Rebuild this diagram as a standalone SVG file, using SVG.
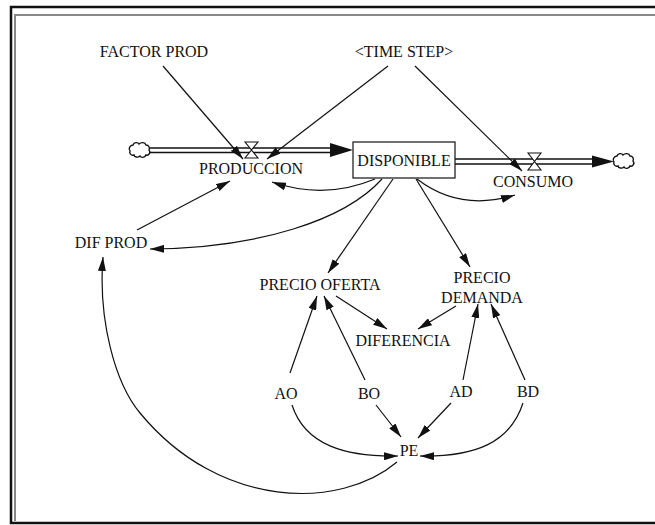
<svg xmlns="http://www.w3.org/2000/svg" width="655" height="525" viewBox="0 0 655 525">
<style>
text{font-family:"Liberation Serif","Times New Roman",serif;font-size:16px;fill:#111;text-anchor:middle}
.ln{fill:none;stroke:#111;stroke-width:1.2}
.pipe{fill:none;stroke:#111;stroke-width:1.3}
.cloud{fill:#fff;stroke:#111;stroke-width:1.4}
.valve{fill:#fff;stroke:#111;stroke-width:1.1}
</style>
<defs>
<marker id="ah" viewBox="0 0 14 8" refX="14" refY="4" markerWidth="14" markerHeight="8" markerUnits="userSpaceOnUse" orient="auto">
<path d="M0,0 L14,4 L0,8 z" fill="#111"/>
</marker>
</defs>
<rect width="655" height="525" fill="#fff"/>
<g id="frame">
<path d="M655,7 H11 V523 H655" fill="none" stroke="#111" stroke-width="2.5"/>
<path d="M655,15 H15 V521" fill="none" stroke="#888" stroke-width="2"/>
</g>
<g id="connectors">
<!-- inflow pipe -->
<path class="pipe" d="M150,148 H334 M150,152.5 H334"/>
<path d="M330,143 L353,150 L330,157 z" fill="#111"/>
<!-- outflow pipe -->
<path class="pipe" d="M455,159 H596 M455,164 H596"/>
<path d="M592,155.5 L614,161.5 L592,167.5 z" fill="#111"/>
<!-- info links -->
<path class="ln" marker-end="url(#ah)" d="M163,66 L243,159"/>
<path class="ln" marker-end="url(#ah)" d="M388,66 L267,159"/>
<path class="ln" marker-end="url(#ah)" d="M415,66 L522,171"/>
<path class="ln" marker-end="url(#ah)" d="M375,179 Q325,200 272,182"/>
<path class="ln" marker-end="url(#ah)" d="M417,179 Q460,212 515,195"/>
<path class="ln" marker-end="url(#ah)" d="M382,179 C345,220 260,248 150,249"/>
<path class="ln" marker-end="url(#ah)" d="M393,179 L328,273"/>
<path class="ln" marker-end="url(#ah)" d="M416,179 L470,267"/>
<path class="ln" marker-end="url(#ah)" d="M137,230 L230,181"/>
<path class="ln" marker-end="url(#ah)" d="M336,296 L387,329"/>
<path class="ln" marker-end="url(#ah)" d="M456,306 L418,329"/>
<path class="ln" marker-end="url(#ah)" d="M290,373 L317,296"/>
<path class="ln" marker-end="url(#ah)" d="M365,380 L324,296"/>
<path class="ln" marker-end="url(#ah)" d="M463,380 L478,304"/>
<path class="ln" marker-end="url(#ah)" d="M525,380 L491,304"/>
<path class="ln" marker-end="url(#ah)" d="M292,405 C305,445 345,457 398,456"/>
<path class="ln" marker-end="url(#ah)" d="M376,405 L401,437"/>
<path class="ln" marker-end="url(#ah)" d="M451,403 L418,438"/>
<path class="ln" marker-end="url(#ah)" d="M523,403 C510,443 475,457 420,456"/>
<path class="ln" marker-end="url(#ah)" d="M397,462 C340,510 220,510 140,413 C115,383 98,320 103,257"/>
</g>
<g id="source-cloud">
<path class="cloud" d="M133,145 c1,-3 5,-3 6,-1 c2,-2 6,-2 7,1 c3,0 4,3 3,5 c2,2 0,6 -3,5 c-1,3 -5,3 -6,1 c-2,2 -6,1 -6,-1 c-3,1 -5,-2 -4,-4 c-2,-2 0,-6 3,-6 z"/>
</g>
<g id="sink-cloud">
<path class="cloud" d="M617,156 c1,-3 5,-3 6,-1 c2,-2 6,-2 7,1 c3,0 4,3 3,5 c2,2 0,6 -3,5 c-1,3 -5,3 -6,1 c-2,2 -6,1 -6,-1 c-3,1 -5,-2 -4,-4 c-2,-2 0,-6 3,-6 z"/>
</g>
<g id="FACTOR_PROD"><text x="154" y="57">FACTOR PROD</text></g>
<g id="TIME_STEP"><text x="404" y="57">&lt;TIME STEP&gt;</text></g>
<g id="PRODUCCION">
<path class="valve" d="M245,142 H258 L251.5,150 L258,158 H245 L251.5,150 z"/>
<text x="251" y="174">PRODUCCION</text>
</g>
<g id="DISPONIBLE">
<rect x="353" y="142" width="102" height="36" fill="#fff" stroke="#111" stroke-width="1.2"/>
<text x="404" y="166">DISPONIBLE</text>
</g>
<g id="CONSUMO">
<path class="valve" d="M528,153 H541 L534.5,161.5 L541,170 H528 L534.5,161.5 z"/>
<text x="533" y="187">CONSUMO</text>
</g>
<g id="DIF_PROD"><text x="111" y="248">DIF PROD</text></g>
<g id="PRECIO_OFERTA"><text x="320" y="290">PRECIO OFERTA</text></g>
<g id="PRECIO_DEMANDA"><text x="482" y="283">PRECIO</text><text x="482" y="303">DEMANDA</text></g>
<g id="DIFERENCIA"><text x="403" y="346">DIFERENCIA</text></g>
<g id="AO"><text x="286" y="399">AO</text></g>
<g id="BO"><text x="369" y="399">BO</text></g>
<g id="AD"><text x="461" y="397">AD</text></g>
<g id="BD"><text x="528" y="397">BD</text></g>
<g id="PE"><text x="409" y="456">PE</text></g>
</svg>
